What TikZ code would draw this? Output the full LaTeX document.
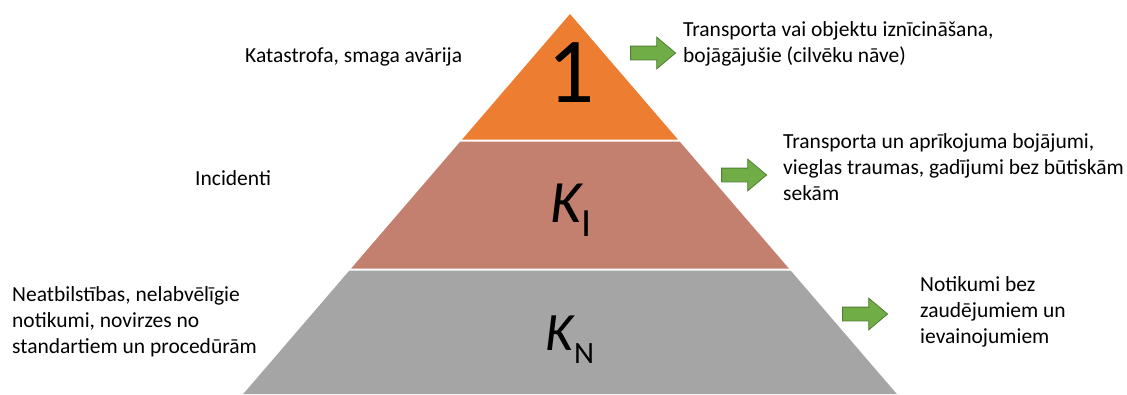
\documentclass[tikz,border=0pt]{standalone}
\usepackage{fontspec}
\setmainfont{Carlito}
\usetikzlibrary{shapes.arrows}
\definecolor{layerone}{HTML}{ED7D31}
\definecolor{layertwo}{HTML}{C3806F}
\definecolor{layerthree}{HTML}{A5A5A5}
\definecolor{arrfill}{HTML}{70AD47}
\definecolor{arrline}{HTML}{507E32}
\tikzset{
  lbl/.style={font=\fontsize{21.5}{26.3}\selectfont,align=left,inner sep=0pt,anchor=base west},
  greenarr/.style={single arrow,draw=arrline,fill=arrfill,line width=0.8pt,inner xsep=0pt,inner ysep=6.5pt,
    minimum height=45pt,single arrow head extend=9pt,single arrow tip angle=80},
}
\begin{document}
\begin{tikzpicture}[x=1pt,y=-1pt]
  \useasboundingbox (0,0) rectangle (1127,394);
  \fill[layerone] (570,14)--(677.9,139.5)--(462.1,139.5)--cycle;
  \fill[layertwo] (460.35,141.5)--(679.65,141.5)--(788.9,268.5)--(351.1,268.5)--cycle;
  \fill[layerthree] (349.4,270.5)--(790.6,270.5)--(896.8,394)--(243.2,394)--cycle;
  \node[anchor=base,inner sep=0pt,font=\fontsize{93}{93}\selectfont] (one) at (571,102) {1};
  \node[anchor=base,inner sep=0pt] (ki) at (571,222)
    {{\fontsize{60}{60}\selectfont\itshape K}\raisebox{-14pt}{\fontsize{40}{40}\selectfont I}};
  \node[anchor=base,inner sep=0pt] (kn) at (570,350)
    {{\fontsize{54}{54}\selectfont\itshape K}\raisebox{-13pt}{\fontsize{31}{31}\selectfont N}};
  \node[lbl] (ltop) at (245,62) {Katastrofa, smaga avārija};
  \node[lbl] (lmid) at (195,185) {Incidenti};
  % multi-line labels sit on the baseline of their last line
  \node[lbl] (lbot) at (12,353.6) {Neatbilstības, nelabvēlīgie\\notikumi, novirzes no\\standartiem un procedūrām};
  \node[greenarr] (atop) at (649,53) {};
  \node[greenarr] (amid) at (740,175) {};
  \node[greenarr] (abot) at (861,314) {};
  \node[lbl] (rtop) at (683,62.3) {Transporta vai objektu iznīcināšana,\\bojāgājušie (cilvēku nāve)};
  \node[lbl] (rmid) at (783,200.6) {Transporta un aprīkojuma bojājumi,\\vieglas traumas, gadījumi bez būtiskām\\sekām};
  \node[lbl] (rbot) at (920,343.6) {Notikumi bez\\zaudējumiem un\\ievainojumiem};
\end{tikzpicture}
\end{document}
